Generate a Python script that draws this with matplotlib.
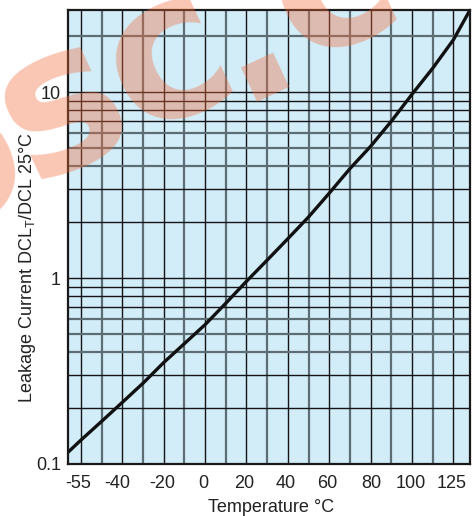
import numpy as np
import matplotlib
matplotlib.use("Agg")
import matplotlib.pyplot as plt

# ---- data ----
temps = [-66.2, -60, -50, -40, -30, -20, -10, 0, 10, 20, 30, 40, 50, 60,
         70, 80, 90, 100, 110, 120, 128]
ratio = [0.1156, 0.1343, 0.1694, 0.2143, 0.2716, 0.3508, 0.4436, 0.561, 0.7311,
         0.9594, 1.247, 1.626, 2.128, 2.858, 3.873, 5.105, 6.966, 9.727, 13.43,
         19.10, 27.6]

xtick_labels = ["-55", "-40", "-20", "0", "20", "40", "60", "80", "100", "125"]
xtick_pos = [-61.4, -42.5, -20.9, -0.6, 18.8, 39.0, 59.2, 80.5, 99.4, 119.1]
ytick_labels = ["0.1", "1", "10"]
ytick_vals = [0.1, 1, 10]

watermark_chars = ["o", "s", "c", ".", "c"]

plt.rcParams['font.family'] = ['Liberation Sans', 'DejaVu Sans']

W, H = 474, 516
fig = plt.figure(figsize=(W / 100, H / 100), dpi=100)
ax = fig.add_axes([68 / W, 1 - 464 / H, (470 - 68) / W, (464 - 10) / H])
ax.set_facecolor('#d2ecf8')
ax.set_yscale('log')
ax.set_xlim(-66.2, 128.0)
ax.set_ylim(0.1, 27.6)

black = '#151515'
gray = '#5d6d74'
# vertical grid lines
for g in np.arange(-60, 121, 10):
    if int(g) % 20 == 0:
        ax.axvline(g, color=black, lw=1.0, zorder=1)
    else:
        ax.axvline(g, color=gray, lw=1.6, zorder=1)
# horizontal grid lines
for dec in [0.1, 1, 10]:
    for m in range(1, 10):
        v = dec * m
        if v > 27.6 or v <= 0.1:
            continue
        if m in (4, 5, 6) or v == 20:
            ax.axhline(v, color=gray, lw=1.6, zorder=1)
        else:
            ax.axhline(v, color=black, lw=1.0, zorder=1)

ax.plot(temps, ratio, color='#111111', lw=2.4, zorder=3,
        solid_joinstyle='round', solid_capstyle='butt')

ax.set_xticks(xtick_pos)
ax.set_xticklabels(xtick_labels)
ax.set_yticks(ytick_vals)
ax.set_yticklabels(ytick_labels)
ax.yaxis.set_minor_locator(matplotlib.ticker.NullLocator())
ax.tick_params(axis='both', length=0, labelsize=13, colors='#222222')
ax.tick_params(axis='x', pad=8)
ax.tick_params(axis='y', pad=5)
for s in ax.spines.values():
    s.set_color('#1a1a1a')
    s.set_linewidth(1.6)
    s.set_zorder(4)

fig.text(271 / W, 1 - 508 / H, "Temperature °C", ha='center', va='center',
         fontsize=13, color='#222222')
fig.text(28 / W, 1 - 268 / H, "Leakage Current DCL$_\\mathregular{T}$/DCL 25°C",
         ha='center', va='center', rotation=90, fontsize=13, color='#222222')

# watermark, one glyph at a time (pixel centres from the top-left corner)
wm_centres = [(-48, 168), (62, 108), (168, 60), (248, 36), (332, -12)]
for ch, (px, py) in zip(watermark_chars, wm_centres):
    fig.text(px / W, 1 - py / H, ch, ha='center', va='center', rotation=25,
             rotation_mode='anchor', fontsize=145, fontweight='bold',
             family='DejaVu Sans', color='#f26b3a', alpha=0.38, zorder=10)

fig.savefig('out.png', dpi=100)
